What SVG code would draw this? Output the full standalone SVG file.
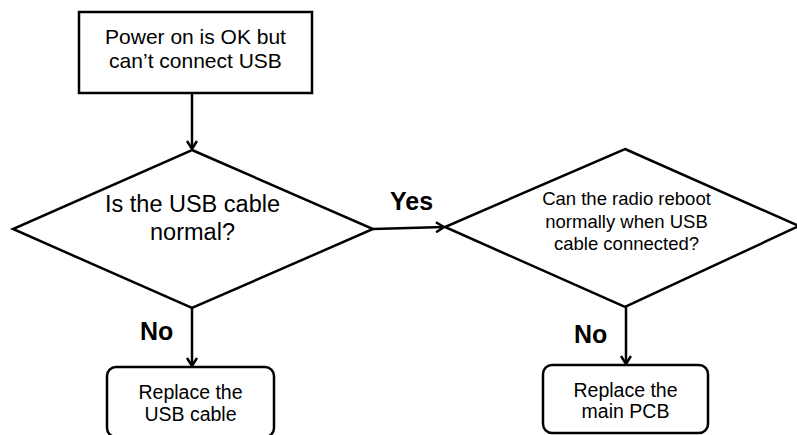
<svg xmlns="http://www.w3.org/2000/svg" width="797" height="435" viewBox="0 0 797 435">
<style>
.shape{fill:#fff;stroke:#000;stroke-width:2.5}
.conn{fill:none;stroke:#000;stroke-width:2.5}
.t{font-family:"Liberation Sans",Arial,sans-serif;fill:#000;text-anchor:middle}
.lbl{font-family:"Liberation Sans",Arial,sans-serif;font-weight:bold;font-size:25px;fill:#000}
</style>
<defs>
<marker id="arr" markerUnits="userSpaceOnUse" markerWidth="14" markerHeight="14" refX="10" refY="6" orient="auto">
<path d="M2,1 L10,6 L2,11" fill="none" stroke="#000" stroke-width="2.5"/>
</marker>
</defs>
<rect width="797" height="435" fill="#fff"/>
<g id="connectors">
<line class="conn" x1="192" y1="93" x2="192" y2="149" marker-end="url(#arr)"/>
<line class="conn" x1="373" y1="229" x2="444" y2="227" marker-end="url(#arr)"/>
<line class="conn" x1="192" y1="308" x2="192" y2="366" marker-end="url(#arr)"/>
<line class="conn" x1="626" y1="307" x2="626" y2="364" marker-end="url(#arr)"/>
<text class="lbl" x="390" y="210">Yes</text>
<text class="lbl" x="140" y="340">No</text>
<text class="lbl" x="574" y="343">No</text>
</g>
<g id="start">
<rect class="shape" x="79" y="12" width="233" height="81"/>
<text class="t" font-size="21" x="195.5" y="44">Power on is OK but</text>
<text class="t" font-size="21" x="195.5" y="68">can’t connect USB</text>
</g>
<g id="decision1">
<polygon class="shape" points="192,150 373,229 192,308 13,229"/>
<text class="t" font-size="23.5" x="192.5" y="212">Is the USB cable</text>
<text class="t" font-size="23.5" x="192.5" y="240">normal?</text>
</g>
<g id="decision2">
<polygon class="shape" points="625,149 799,226 625,307 445,227"/>
<text class="t" font-size="18.5" x="626.5" y="205">Can the radio reboot</text>
<text class="t" font-size="18.5" x="626.5" y="227.5">normally when USB</text>
<text class="t" font-size="18.5" x="626.5" y="250">cable connected?</text>
</g>
<g id="replaceCable">
<rect class="shape" x="107" y="367" width="167" height="70" rx="9"/>
<text class="t" font-size="19.5" x="190.5" y="399">Replace the</text>
<text class="t" font-size="19.5" x="190.5" y="421">USB cable</text>
</g>
<g id="replacePCB">
<rect class="shape" x="543" y="365" width="165" height="68" rx="9"/>
<text class="t" font-size="19.5" x="625.5" y="397">Replace the</text>
<text class="t" font-size="19.5" x="625.5" y="418">main PCB</text>
</g>
</svg>
